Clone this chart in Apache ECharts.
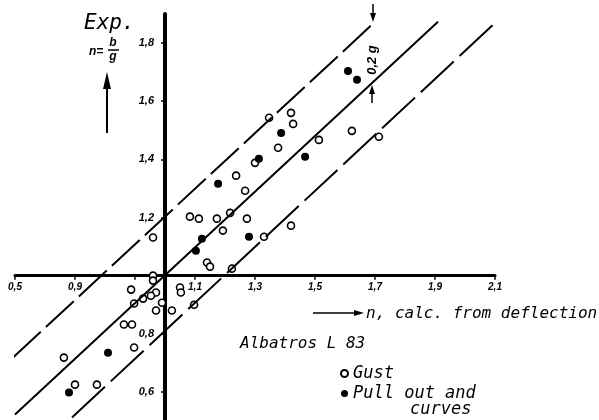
<!DOCTYPE html>
<html><head><meta charset="utf-8">
<script src="https://cdn.jsdelivr.net/npm/echarts@6/dist/echarts.min.js"></script>
<style>html,body{margin:0;padding:0;background:#fff}#c{width:599px;height:420px}</style>
</head><body><div id="c"></div>
<script>
// ---- data ----
const gust = [[0.887,0.952],[0.96,1.0],[0.96,0.983],[1.05,0.959],[1.053,0.942],[0.97,0.942],[0.953,0.931],
  [0.927,0.921],[0.897,0.904],[0.99,0.907],[0.97,0.88],[1.023,0.88],[1.097,0.9],[0.863,0.832],[0.89,0.832],
  [0.897,0.753],[0.663,0.718],[0.70,0.625],[0.773,0.625],[0.96,1.131],[1.083,1.203],[1.113,1.196],[1.173,1.196],
  [1.217,1.216],[1.273,1.196],[1.193,1.155],[1.33,1.134],[1.42,1.172],[1.14,1.045],[1.15,1.031],[1.223,1.024],
  [1.347,1.543],[1.42,1.56],[1.427,1.522],[1.377,1.44],[1.513,1.467],[1.30,1.388],[1.237,1.344],[1.267,1.292],
  [1.623,1.498],[1.713,1.478]];
const pullOut = [[0.81,0.735],[0.68,0.598],[1.123,1.127],[1.103,1.086],[1.28,1.134],[1.387,1.491],[1.467,1.409],
  [1.313,1.402],[1.177,1.316],[1.61,1.704],[1.64,1.674]];
const lineUpper = [[0.493,0.718],[1.70,1.873]];
const lineMiddle = [[0.50,0.522],[1.91,1.873]];
const lineLower = [[0.69,0.512],[2.10,1.869]];
const xTicks = [0.5,0.7,0.9,1.1,1.3,1.5,1.7,1.9,2.1];
const xLabelValues = [0.5,0.7,1.1,1.3,1.5,1.7,1.9,2.1];
const xLabelTexts = ['0,5','0,9','1,1','1,3','1,5','1,7','1,9','2,1'];
const yTicks = [0.6,0.8,1.2,1.4,1.6,1.8];
const yLabelTexts = ['0,6','0,8','1,2','1,4','1,6','1,8'];
const seriesNames = ['Gust','Pull out and curves'];

// ---- layout ----
const X_MIN=0.5, X_MAX=2.1, Y_MIN=0.5, Y_MAX=1.9, CROSS=1.0;
const G = {left:15, top:14, width:480, height:407};
const xOffset = -G.height*(CROSS-Y_MIN)/(Y_MAX-Y_MIN);
const yOffset = -G.width*(CROSS-X_MIN)/(X_MAX-X_MIN);
const MONO = '"DejaVu Sans Mono", monospace';
const SANS = '"Liberation Sans", Arial, sans-serif';
function lbl(values, texts){ return v => { const i = values.findIndex(t=>Math.abs(t-v)<1e-6); return i>=0?texts[i]:''; }; }

const chart = echarts.init(document.getElementById('c'), null, {renderer:'canvas'});
chart.setOption({
  animation:false,
  backgroundColor:'#fff',
  grid:{left:G.left, top:G.top, width:G.width, height:G.height, containLabel:false, outerBoundsMode:'none'},
  xAxis:{type:'value', min:X_MIN, max:X_MAX, position:'bottom', offset:xOffset,
    axisLine:{show:true, onZero:false, lineStyle:{color:'#000', width:3}},
    axisTick:{show:true, customValues:xTicks, length:4, lineStyle:{color:'#000', width:1.5}},
    axisLabel:{customValues:xLabelValues, formatter:lbl(xLabelValues,xLabelTexts), margin:7,
      color:'#000', fontFamily:SANS, fontStyle:'italic', fontWeight:'bold', fontSize:10},
    splitLine:{show:false}},
  yAxis:{type:'value', min:Y_MIN, max:Y_MAX, position:'left', offset:yOffset,
    axisLine:{show:true, onZero:false, lineStyle:{color:'#000', width:4}},
    axisTick:{show:true, customValues:yTicks, length:4, lineStyle:{color:'#000', width:1.5}},
    axisLabel:{customValues:yTicks, formatter:lbl(yTicks,yLabelTexts), margin:11,
      color:'#000', fontFamily:SANS, fontStyle:'italic', fontWeight:'bold', fontSize:11},
    splitLine:{show:false}},
  legend:{orient:'vertical', left:340, top:365, itemWidth:7, itemHeight:7, itemGap:3, padding:0,
    data:seriesNames,
    formatter: n => n===seriesNames[1] ? 'Pull out and' : n,
    textStyle:{fontFamily:MONO, fontStyle:'italic', fontSize:17, lineHeight:17, color:'#000'}},
  series:[
    {type:'line', data:lineUpper, symbol:'none', silent:true, lineStyle:{color:'#000', width:2, type:[38,7]}},
    {type:'line', data:lineMiddle, symbol:'none', silent:true, lineStyle:{color:'#000', width:2}},
    {type:'line', data:lineLower, symbol:'none', silent:true, lineStyle:{color:'#000', width:2, type:[45,8]}},
    {name:seriesNames[0], type:'scatter', data:gust, symbol:'circle', symbolSize:7,
      itemStyle:{color:'#fff', borderColor:'#000', borderWidth:1.6, opacity:1}},
    {name:seriesNames[1], type:'scatter', data:pullOut, symbol:'circle', symbolSize:8,
      itemStyle:{color:'#000', borderColor:'#000', borderWidth:0, opacity:1}}
  ],
  graphic:[
    {type:'text', x:84, y:24, style:{text:'Exp.', fill:'#000', fontFamily:MONO, fontStyle:'italic', fontSize:21, align:'left', verticalAlign:'middle'}},
    {type:'text', x:89, y:52, style:{text:'n=', fill:'#000', fontFamily:SANS, fontStyle:'italic', fontWeight:'bold', fontSize:12, align:'left', verticalAlign:'middle'}},
    {type:'text', x:113, y:43, style:{text:'b', fill:'#000', fontFamily:SANS, fontStyle:'italic', fontWeight:'bold', fontSize:12, align:'center', verticalAlign:'middle'}},
    {type:'line', shape:{x1:108, y1:50, x2:119, y2:50}, style:{stroke:'#000', lineWidth:1.5}},
    {type:'text', x:113, y:57, style:{text:'g', fill:'#000', fontFamily:SANS, fontStyle:'italic', fontWeight:'bold', fontSize:12, align:'center', verticalAlign:'middle'}},
    {type:'line', shape:{x1:107, y1:133, x2:107, y2:84}, style:{stroke:'#000', lineWidth:2}},
    {type:'polygon', shape:{points:[[103,89],[107,72],[111,89]]}, style:{fill:'#000'}},
    {type:'text', x:372, y:60, rotation:Math.PI/2, style:{text:'0,2 g', fill:'#000', fontFamily:SANS, fontStyle:'italic', fontWeight:'bold', fontSize:13, align:'center', verticalAlign:'middle'}},
    {type:'line', shape:{x1:373, y1:4, x2:373, y2:16}, style:{stroke:'#000', lineWidth:1.5}},
    {type:'polygon', shape:{points:[[370,13],[376,13],[373,22]]}, style:{fill:'#000'}},
    {type:'line', shape:{x1:372, y1:103, x2:372, y2:92}, style:{stroke:'#000', lineWidth:1.5}},
    {type:'polygon', shape:{points:[[369,94],[375,94],[372,85]]}, style:{fill:'#000'}},
    {type:'line', shape:{x1:313, y1:313, x2:357, y2:313}, style:{stroke:'#000', lineWidth:1.5}},
    {type:'polygon', shape:{points:[[354,310],[364,313],[354,316]]}, style:{fill:'#000'}},
    {type:'text', x:366, y:314, style:{text:'n, calc. from deflection', fill:'#000', fontFamily:MONO, fontStyle:'italic', fontSize:16, align:'left', verticalAlign:'middle'}},
    {type:'text', x:240, y:344, style:{text:'Albatros L 83', fill:'#000', fontFamily:MONO, fontStyle:'italic', fontSize:16, align:'left', verticalAlign:'middle'}},
    {type:'text', x:410, y:410, style:{text:'curves', fill:'#000', fontFamily:MONO, fontStyle:'italic', fontSize:17, align:'left', verticalAlign:'middle'}}
  ]
});
</script></body></html>
